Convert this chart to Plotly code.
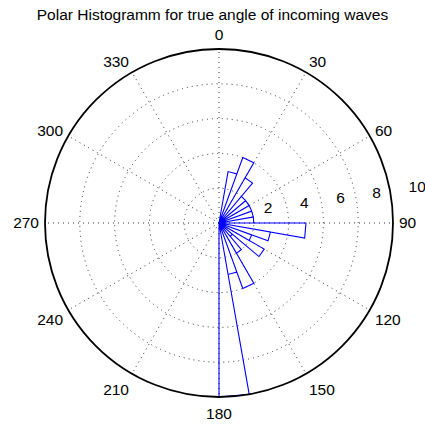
import math
import plotly.graph_objects as go

# Rose histogram of wave directions: 10-degree bins, compass convention
bin_width = 10
bin_starts = list(range(0, 360, bin_width))
counts = [0, 3, 4, 3, 2, 2, 2, 2, 2, 5, 3, 2, 3, 1, 2, 4, 3, 10] + [0] * 18

ring_values = [2, 4, 6, 8, 10]
angle_ticks = list(range(0, 360, 30))
title_text = "Polar Histogramm for true angle of incoming waves"

# Each bin is a triangle: centre -> outer corner (low edge) -> outer corner (high edge) -> centre
r_path, t_path = [0], [0]
for start, c in zip(bin_starts, counts):
    r_path += [c, c, 0]
    t_path += [start, start + bin_width, start + bin_width]

FONT = "Liberation Sans, Arial, Helvetica, sans-serif"
FS = 15.5
W, H = 425, 428
cx, cy, rad = 219, 223, 174  # plot circle, pixels
rmax = ring_values[-1]
unit = rad / rmax  # pixels per radial unit

fig = go.Figure()
fig.add_trace(go.Scatterpolar(
    r=r_path, theta=t_path, mode="lines",
    line=dict(color="#0000ff", width=1.1),
    hoverinfo="skip", showlegend=False,
))

# Ring labels: placed along the 82-degree bearing just past each ring,
# on an invisible cartesian overlay sharing the polar scale (so "10" can sit outside the circle)
label_bearing = math.radians(82)
lab_r = [v * 1.05 + 0.05 * rmax for v in ring_values]
fig.add_trace(go.Scatter(
    x=[r * math.sin(label_bearing) for r in lab_r],
    y=[r * math.cos(label_bearing) for r in lab_r],
    mode="text", text=[str(v) for v in ring_values],
    textposition="top right",
    textfont=dict(family=FONT, size=FS, color="#000"),
    cliponaxis=False, hoverinfo="skip", showlegend=False,
    xaxis="x", yaxis="y",
))

dot = "1px,4px"
fig.update_layout(
    width=W, height=H,
    margin=dict(l=0, r=0, t=0, b=0),
    paper_bgcolor="white", plot_bgcolor="rgba(0,0,0,0)",
    font=dict(family=FONT, size=FS, color="#000"),
    title=dict(text=title_text, x=0.5, xref="container", xanchor="center",
               y=1 - 15 / H, yref="container", yanchor="middle",
               font=dict(family=FONT, size=FS, color="#000")),
    xaxis=dict(domain=[0, 1], range=[-cx / unit, (W - cx) / unit],
               visible=False, fixedrange=True),
    yaxis=dict(domain=[0, 1], range=[-(H - cy) / unit, cy / unit],
               visible=False, fixedrange=True),
    polar=dict(
        domain=dict(x=[(cx - rad) / W, (cx + rad) / W],
                    y=[(H - cy - rad) / H, (H - cy + rad) / H]),
        bgcolor="rgba(0,0,0,0)",
        angularaxis=dict(
            direction="clockwise", rotation=90,
            tickmode="array", tickvals=angle_ticks,
            ticktext=[str(a) for a in angle_ticks],
            ticks="outside", ticklen=2, tickcolor="rgba(0,0,0,0)",
            showline=True, linecolor="#000", linewidth=1.8,
            showgrid=True, gridcolor="#333", gridwidth=1, griddash=dot,
            tickfont=dict(family=FONT, size=FS, color="#000"),
        ),
        radialaxis=dict(
            range=[0, rmax], tickvals=ring_values[:-1],
            showticklabels=False, ticks="",
            showline=False,
            showgrid=True, gridcolor="#333", gridwidth=1, griddash=dot,
        ),
    ),
)

fig.write_html("out.html")
